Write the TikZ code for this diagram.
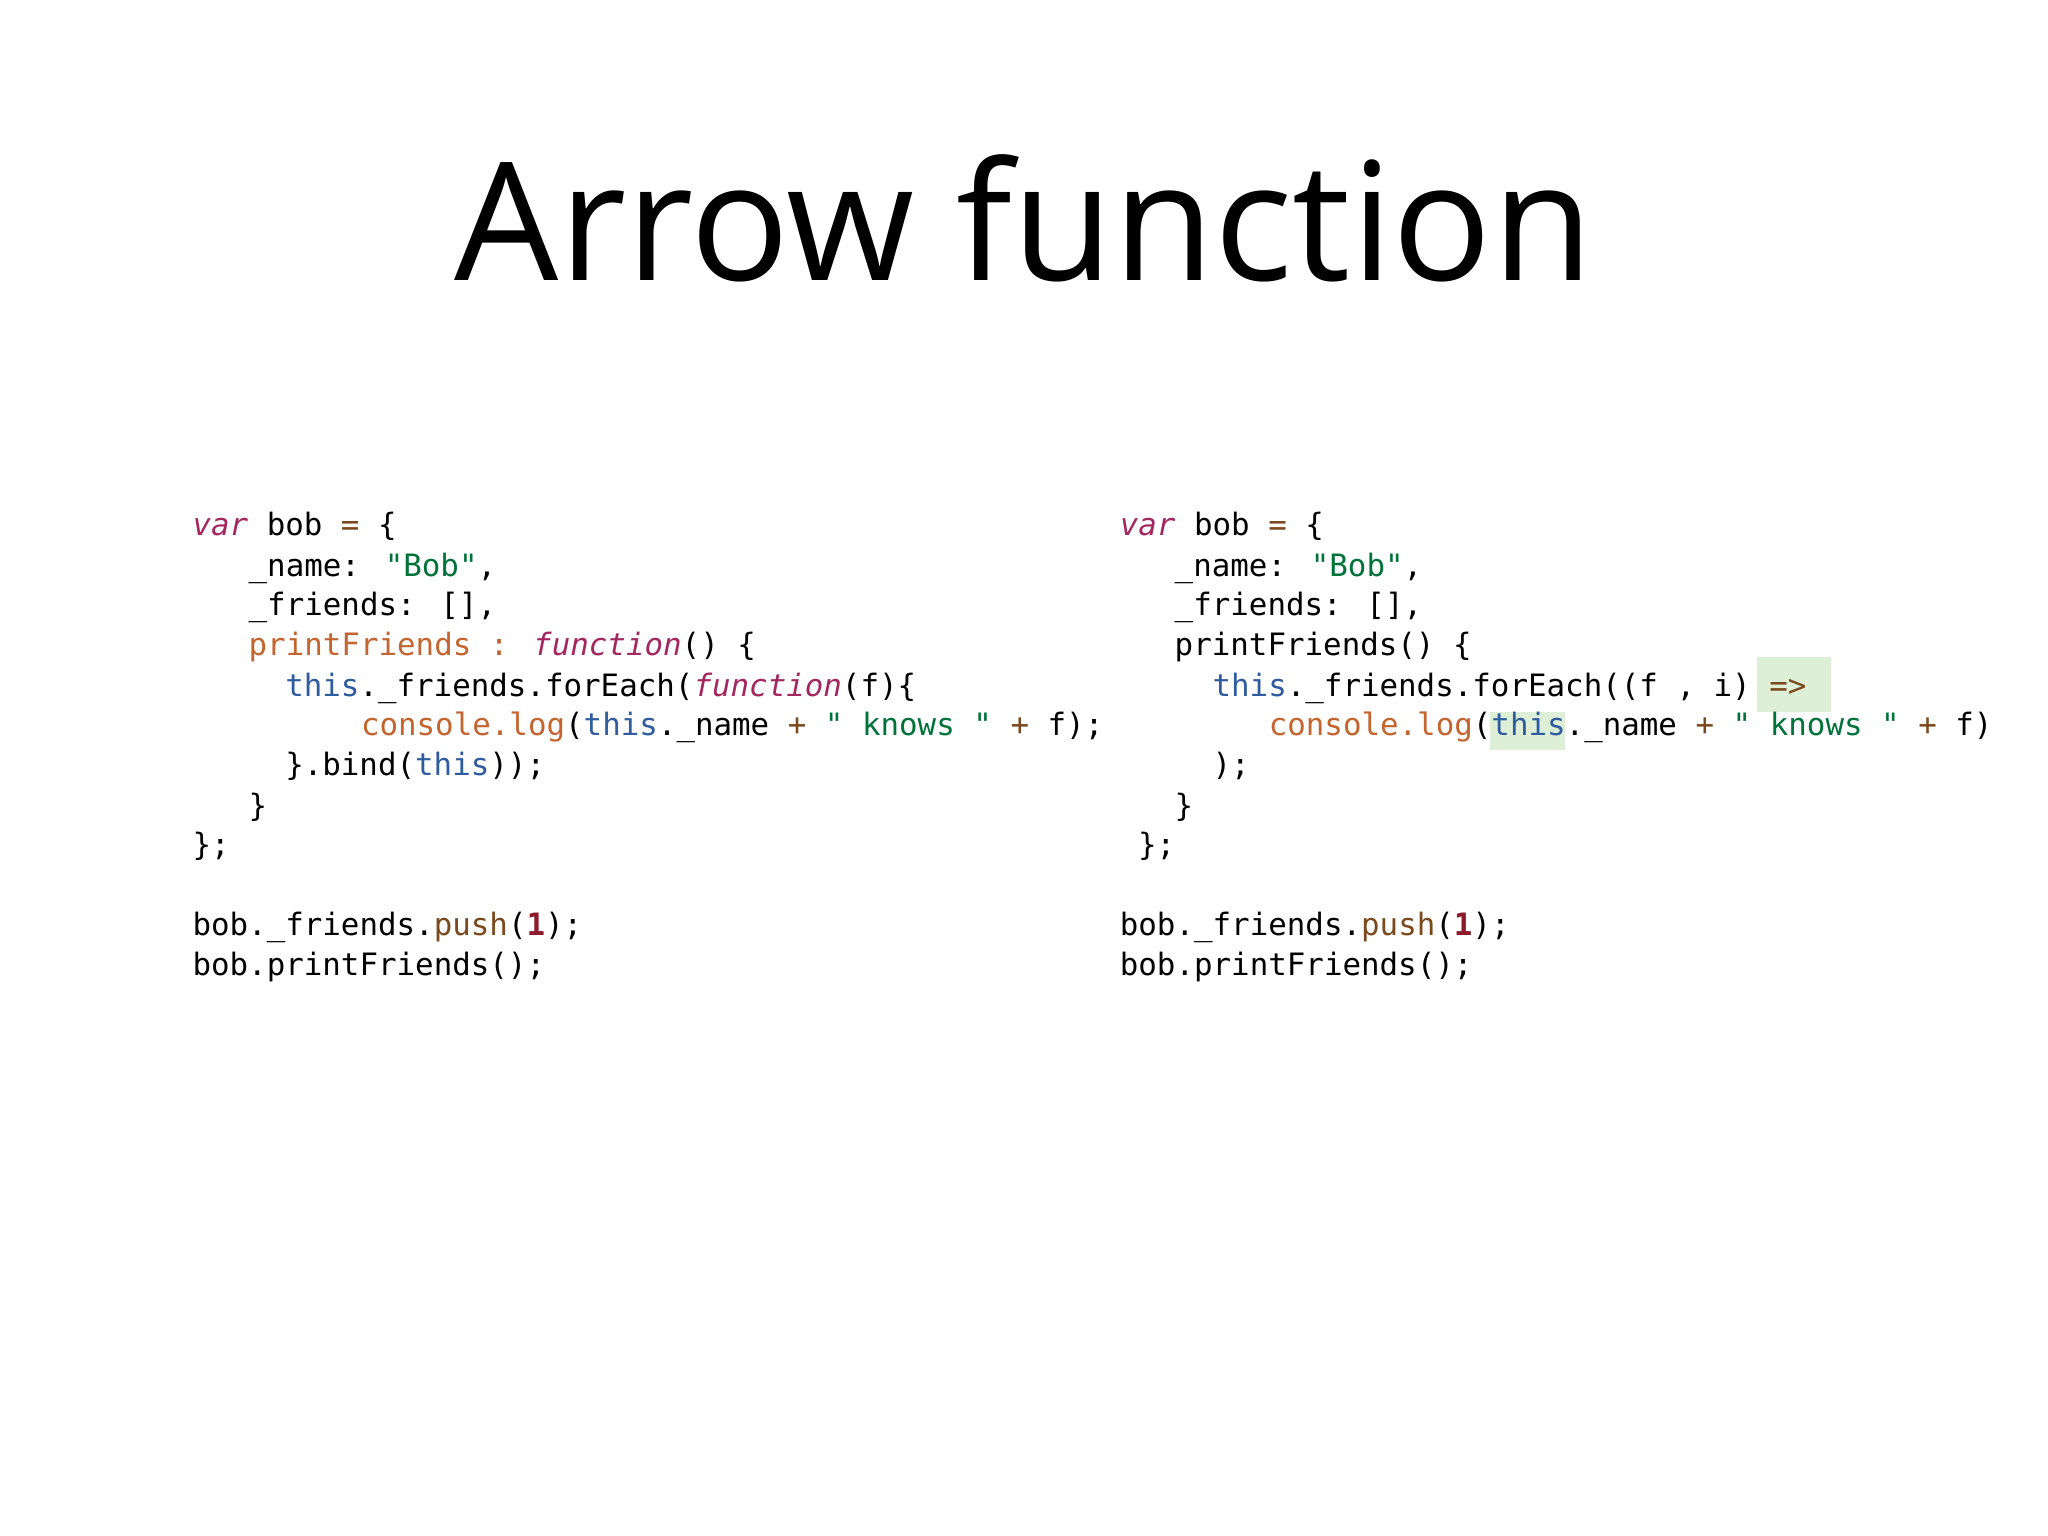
\documentclass[tikz,border=0pt]{standalone}
\usepackage{fontspec}
\setmainfont{Open Sans}
\newfontfamily\codefont{DejaVu Sans Mono}
\definecolor{kwc}{HTML}{A3285F}
\definecolor{strc}{HTML}{00733A}
\definecolor{thc}{HTML}{2E5C9E}
\definecolor{orc}{HTML}{C4652F}
\definecolor{brc}{HTML}{7A4A1E}
\definecolor{numc}{HTML}{8E1B2B}
\definecolor{hlc}{HTML}{DDEFD6}
\newcommand\cK[1]{{\color{kwc}\itshape #1}}
\newcommand\cS[1]{{\color{strc}#1}}
\newcommand\cT[1]{{\color{thc}#1}}
\newcommand\cO[1]{{\color{orc}#1}}
\newcommand\cB[1]{{\color{brc}#1}}
\newcommand\cN[1]{{\color{numc}\bfseries #1}}
\tikzset{codeline/.style={anchor=base west,inner sep=0pt,font=\fontsize{11.8}{14}\codefont}}
\begin{document}
\begin{tikzpicture}[x=0.5pt,y=-0.5pt]
\useasboundingbox (0,0) rectangle (1568,1176);
\fill[white] (0,0) rectangle (1568,1176);
\node[anchor=base,inner sep=0pt,font=\fontsize{63}{70}\selectfont] (title) at (784,215) {Arrow function};
% highlights
\fill[hlc] (1345,503) rectangle (1402,545);
\fill[hlc] (1141,545) rectangle (1198,574);
% left
\node[codeline] (l1) at (147,410) {\cK{var} bob \cB{=} \{};
\node[codeline] (l2) at (190,441) {\_name: \cS{"Bob"},};
\node[codeline] (l3) at (190,471) {\_friends: [],};
\node[codeline] (l4) at (190,502) {\cO{printFriends :} \cK{function}() \{};
\node[codeline] (l5) at (218,533) {\cT{this}.\_friends.forEach(\cK{function}(f)\{};
\node[codeline] (l6) at (276,563) {\cO{console.log}(\cT{this}.\_name \cB{+} \cS{" knows "} \cB{+} f);};
\node[codeline] (l7) at (218,594) {\}.bind(\cT{this}));};
\node[codeline] (l8) at (190,625) {\}};
\node[codeline] (l9) at (147,655) {\};};
\node[codeline] (l10) at (147,716) {bob.\_friends.\cB{push}(\cN{1});};
\node[codeline] (l11) at (147,747) {bob.printFriends();};
% right
\node[codeline] (r1) at (857,410) {\cK{var} bob \cB{=} \{};
\node[codeline] (r2) at (899,441) {\_name: \cS{"Bob"},};
\node[codeline] (r3) at (899,471) {\_friends: [],};
\node[codeline] (r4) at (899,502) {printFriends() \{};
\node[codeline] (r5) at (928,533) {\cT{this}.\_friends.forEach((f , i) \cB{=>}};
\node[codeline] (r6) at (971,563) {\cO{console.log}(\cT{this}.\_name \cB{+} \cS{" knows "} \cB{+} f)};
\node[codeline] (r7) at (928,594) {);};
\node[codeline] (r8) at (899,625) {\}};
\node[codeline] (r9) at (871,655) {\};};
\node[codeline] (r10) at (857,716) {bob.\_friends.\cB{push}(\cN{1});};
\node[codeline] (r11) at (857,747) {bob.printFriends();};
\end{tikzpicture}
\end{document}
